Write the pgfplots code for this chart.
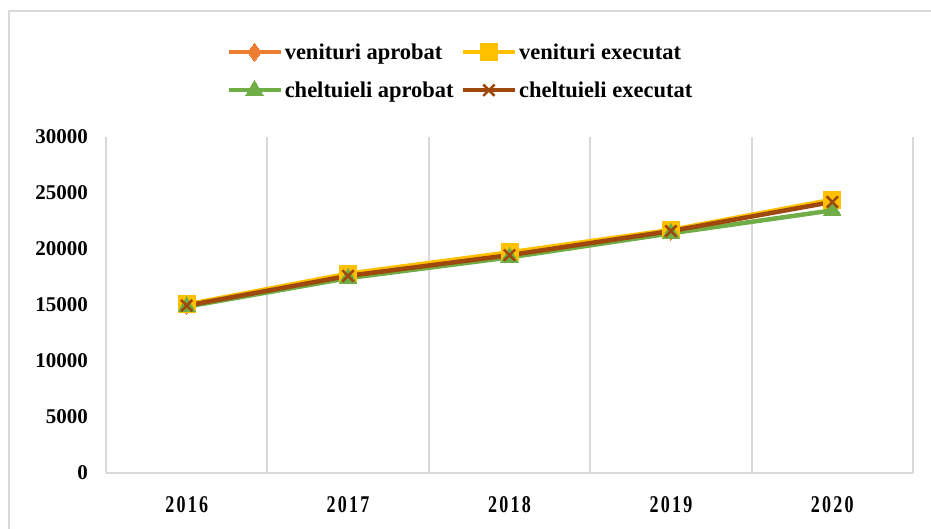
\documentclass[border=0pt]{standalone}
\usepackage{fontspec}
\setmainfont{Liberation Serif}
\usepackage{pgfplots}
\pgfplotsset{compat=1.18}
\definecolor{cOr}{HTML}{ED7D31}
\definecolor{cYe}{HTML}{FFC000}
\definecolor{cGr}{HTML}{70AD47}
\definecolor{cBr}{HTML}{9E480E}
\definecolor{gridc}{HTML}{D9D9D9}
\newcommand{\yr}[4]{\scalebox{0.75}[1]{#1\hspace{3pt}#2\hspace{3pt}#3\hspace{3pt}#4}}
\begin{document}
\begin{tikzpicture}[x=1pt,y=1pt]
\useasboundingbox (0,0) rectangle (931,528);
\draw[line width=2pt, color=gridc] (9,-2) -- (9,517) -- (933,517);
\begin{axis}[at={(106pt,55pt)}, anchor=south west, scale only axis,
  width=807pt, height=336pt,
  xmin=-0.5, xmax=4.5, ymin=0, ymax=30000, clip=false,
  scaled y ticks=false,
  xtick={0,1,2,3,4},
  xticklabels={\yr2016,\yr2017,\yr2018,\yr2019,\yr2020},
  minor xtick={0.5,1.5,2.5,3.5,4.5}, xminorgrids,
  minor grid style={draw=gridc, line width=2pt},
  ytick={0,5000,10000,15000,20000,25000,30000},
  axis x line*=bottom, axis y line*=left,
  axis line style={draw=gridc, line width=2pt, -},
  major tick length=0pt, minor tick length=0pt,
  /pgf/number format/assume math mode=true,
  /pgf/number format/1000 sep={},
  yticklabel style={font=\fontsize{21}{21}\selectfont\bfseries, anchor=east, inner sep=0pt, xshift=-18pt},
  xticklabel style={font=\fontsize{24}{24}\selectfont\bfseries, anchor=center, inner sep=0pt, yshift=-32pt},
  legend columns=2,
  legend style={at={(0.439,1.196)}, anchor=center, draw=none, fill=none,
    font=\fontsize{22.5}{22.5}\selectfont\bfseries, row sep=17pt,
    /tikz/every even column/.append style={column sep=5pt}},
  legend cell align=left,
  legend image code/.code={\draw[#1, mark repeat=2, mark phase=2] plot coordinates {(0pt,0pt) (26pt,0pt) (52pt,0pt)};},
]
\addplot[cOr, line width=4.5pt, mark=diamond*, mark size=9pt, mark options={solid, fill=cOr, draw=cOr, line width=0pt}]
  coordinates {(0,15000) (1,17700) (2,19600) (3,21600) (4,24300)};
\addlegendentry{venituri aprobat}
\addplot[cYe, line width=4.5pt, mark=square*, mark size=8.5pt, mark options={solid, fill=cYe, draw=cYe, line width=0pt}]
  coordinates {(0,15050) (1,17800) (2,19700) (3,21700) (4,24400)};
\addlegendentry{venituri executat}
\addplot[cGr, line width=4.5pt, mark=triangle*, mark size=10pt, mark options={solid, fill=cGr, draw=cGr, line width=0pt}]
  coordinates {(0,14850) (1,17400) (2,19250) (3,21400) (4,23450)};
\addlegendentry{cheltuieli aprobat}
\addplot[cBr, line width=4.5pt, mark=x, mark size=8pt, mark options={solid, draw=cBr, line width=2.5pt}]
  coordinates {(0,14950) (1,17600) (2,19450) (3,21600) (4,24200)};
\addlegendentry{cheltuieli executat}
\end{axis}
\end{tikzpicture}
\end{document}
